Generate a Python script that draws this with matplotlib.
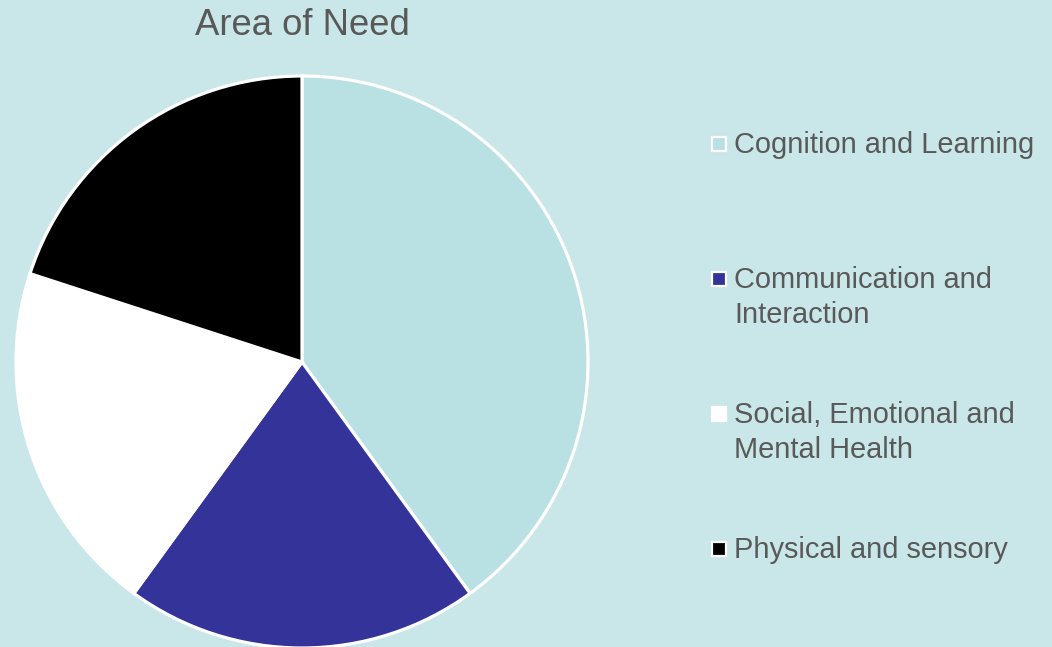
import matplotlib
matplotlib.use("Agg")
import matplotlib.pyplot as plt

# data
categories = ["Cognition and Learning", "Communication and\nInteraction",
              "Social, Emotional and\nMental Health", "Physical and sensory"]
values = [40, 20, 20, 20]
colors = ["#b9e0e3", "#343399", "#ffffff", "#000000"]

BG = "#c9e7e9"
TXT = "#595959"
W, H = 1052, 647

plt.rcParams["font.family"] = ["Liberation Sans", "DejaVu Sans"]

fig = plt.figure(figsize=(W / 100, H / 100), dpi=100, facecolor=BG)
ax = fig.add_axes([0, 0, 1, 1])
ax.set_facecolor(BG)

# pie, in pixel-like data coords (y up)
ax.pie(values, colors=colors, startangle=90, counterclock=False,
       center=(302, H - 362), radius=286, frame=True,
       wedgeprops=dict(edgecolor="white", linewidth=2.3))
ax.set_xlim(0, W)
ax.set_ylim(0, H)
ax.set_aspect("equal")
ax.axis("off")

ax.text(302, H - 35, "Area of Need", ha="center", va="baseline",
        fontsize=26.3, color=TXT)

# legend, drawn by hand so the swatch sits on the first line
first_baselines = [153, 288, 423, 558]
for label, col, base in zip(categories, colors, first_baselines):
    ax.plot([718.5], [H - (base - 9)], marker="s", markersize=10.5,
            markerfacecolor=col, markeredgecolor="white",
            markeredgewidth=1.6, linestyle="none", clip_on=False)
    for i, line in enumerate(label.split("\n")):
        ax.text(734, H - (base + i * 35), line, ha="left", va="baseline",
                fontsize=20.9, color=TXT)

fig.savefig("out.png", dpi=100, facecolor=BG)
